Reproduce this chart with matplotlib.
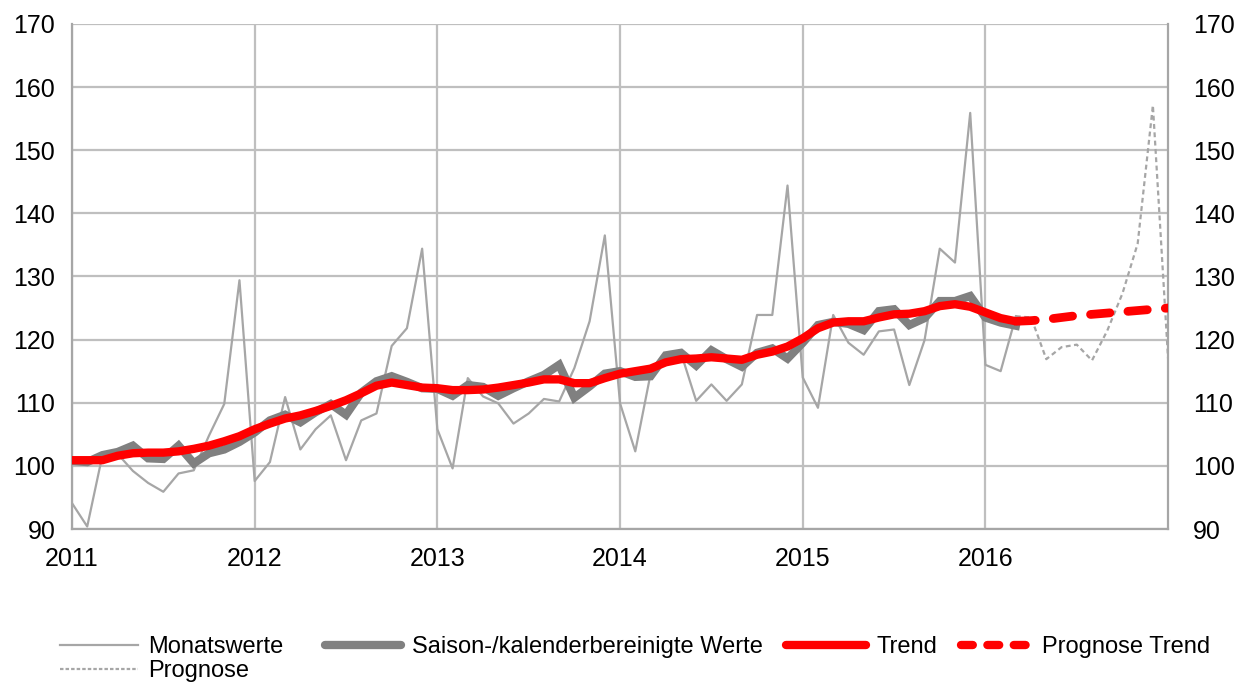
import matplotlib
matplotlib.use("Agg")
import matplotlib.pyplot as plt
from matplotlib.lines import Line2D
import numpy as np

plt.rcParams['font.family'] = ['Liberation Sans', 'DejaVu Sans']
plt.rcParams['lines.scale_dashes'] = False

# Month index 0 = Jan 2011
monatswerte = [
    94.1, 90.4, 101.7, 101.9, 99.2, 97.3, 95.9, 98.8, 99.3, 104.8, 109.8, 129.4,
    97.6, 100.6, 110.9, 102.6, 105.8, 108.0, 100.9, 107.2, 108.3, 119.0, 121.8, 134.4,
    105.8, 99.6, 113.9, 111.0, 109.9, 106.7, 108.3, 110.6, 110.2, 115.5, 122.9, 136.5,
    109.9, 102.3, 114.5, 117.5, 117.9, 110.3, 112.9, 110.3, 112.9, 123.9, 123.9, 144.4,
    114.0, 109.2, 123.9, 119.5, 117.6, 121.3, 121.6, 112.8, 119.9, 134.4, 132.2, 155.9,
    116.0, 115.0, 123.7,
]
saisonbereinigt = [
    100.8, 100.6, 101.7, 102.2, 103.2, 101.2, 101.1, 103.2, 100.4, 102.0, 102.6, 103.8,
    105.3, 107.2, 108.1, 106.9, 108.5, 109.8, 108.1, 111.6, 113.4, 114.2, 113.3, 112.3,
    112.2, 111.1, 112.8, 112.5, 111.1, 112.3, 113.4, 114.4, 116.0, 110.8, 112.6, 114.6,
    115.0, 114.1, 114.2, 117.5, 117.9, 115.9, 118.3, 116.9, 115.7, 117.9, 118.6, 117.0,
    119.5, 122.3, 122.8, 122.5, 121.5, 124.5, 124.8, 122.3, 123.4, 126.1, 126.1, 126.9,
    123.5, 122.7, 122.2,
]
trend = [
    100.9, 100.9, 100.9, 101.6, 102.0, 102.1, 102.1, 102.3, 102.7, 103.2, 103.9, 104.7,
    105.8, 106.7, 107.5, 108.0, 108.7, 109.5, 110.4, 111.5, 112.7, 113.2, 112.8, 112.4,
    112.3, 112.0, 112.0, 112.1, 112.4, 112.8, 113.2, 113.7, 113.7, 113.1, 113.1, 113.9,
    114.6, 115.0, 115.4, 116.4, 116.9, 117.0, 117.2, 117.0, 116.8, 117.6, 118.1, 118.9,
    120.2, 121.8, 122.7, 122.9, 122.9, 123.5, 124.0, 124.1, 124.5, 125.3, 125.6, 125.2,
    124.3, 123.4, 122.9,
]
# Forecasts: Mar 2016 .. Jan 2017
prognose_start = 62
prognose = [123.7, 123.5, 116.9, 118.8, 119.2, 116.7, 121.4, 127.3, 135.2, 157.1, 116.9]
prognose_trend = [122.9, 123.0, 123.2, 123.5, 123.8, 124.0, 124.2, 124.4, 124.6, 124.8, 125.0]

year_labels = ['2011', '2012', '2013', '2014', '2015', '2016']
y_ticks = [90, 100, 110, 120, 130, 140, 150, 160, 170]

W, H = 1252, 682
fig = plt.figure(figsize=(W / 100, H / 100), dpi=100)
ax = fig.add_axes([0.0575, 0.2243, 0.8755, 0.7407])

x_hist = np.arange(len(monatswerte))
x_prog = np.arange(prognose_start, prognose_start + len(prognose))

grid_c = '#BFBFBF'
ln_grey = '#A6A6A6'
prog_dash = (0, (3.5, 2.5))
red_dash = (14, 13)

ax.plot(x_hist, monatswerte, color=ln_grey, lw=1.6, zorder=3)
ax.plot(x_prog, prognose, color=ln_grey, lw=1.6, ls=prog_dash, zorder=3)
ax.plot(x_hist, saisonbereinigt, color='#808080', lw=6.0, zorder=4,
        solid_joinstyle='miter')
ax.plot(x_hist, trend, color='#FF0000', lw=6.0, zorder=5,
        solid_capstyle='butt', solid_joinstyle='round')
ax.plot(x_prog, prognose_trend, color='#FF0000', lw=6.3, zorder=5,
        dash_capstyle='round', dashes=red_dash)

ax.set_xlim(0, 72)
ax.set_ylim(90, 170)
ax.set_xticks([0, 12, 24, 36, 48, 60])
ax.set_xticklabels(year_labels)
ax.set_yticks(y_ticks)
ax.grid(True, color=grid_c, lw=1.6, zorder=0)
ax.set_axisbelow(True)
for s in ax.spines.values():
    s.set_color(ln_grey)
    s.set_linewidth(1.6)
ax.spines['top'].set_visible(False)
ax.tick_params(axis='both', length=0, labelsize=18, colors='black')
ax.tick_params(axis='x', pad=13)
ax.tick_params(axis='y', pad=12)

ax2 = ax.twinx()
ax2.set_ylim(90, 170)
ax2.set_yticks(y_ticks)
ax2.tick_params(axis='y', length=0, labelsize=18, pad=18)
for s in ax2.spines.values():
    s.set_visible(False)

# Legend proxies
h_mon = Line2D([], [], color=ln_grey, lw=1.6)
h_prog = Line2D([], [], color=ln_grey, lw=1.6, ls=(0, (2.5, 1.5)))
h_sa = Line2D([], [], color='#808080', lw=6.0, solid_capstyle='round')
h_tr = Line2D([], [], color='#FF0000', lw=6.0, solid_capstyle='round')
h_pt = Line2D([], [], color='#FF0000', lw=6.0, dash_capstyle='round', dashes=(8.5, 10.5))

leg_y = 1 - 636 / H
fs = 17
def put_legend(handles, labels, x_px, hl_px):
    lg = fig.legend(handles=handles, labels=labels, loc='upper left',
                    bbox_to_anchor=(x_px / W, leg_y), frameon=False, fontsize=fs,
                    handlelength=hl_px * 0.72 / fs, handletextpad=0.45,
                    labelspacing=0.1, borderpad=0.0, borderaxespad=0.0)
    return lg

put_legend([h_mon, h_prog], ['Monatswerte', 'Prognose'], 60, 78)
put_legend([h_sa], ['Saison-/kalenderbereinigte Werte'], 325, 76)
put_legend([h_tr], ['Trend'], 786, 80)
put_legend([h_pt], ['Prognose Trend'], 961, 70)

fig.savefig('out.png', dpi=100)
